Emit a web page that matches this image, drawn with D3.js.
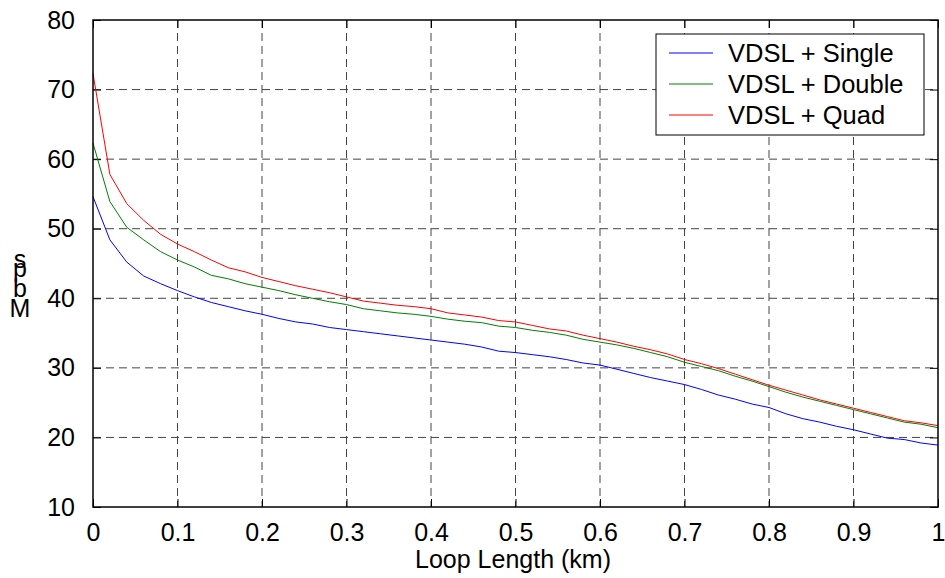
<!DOCTYPE html>
<html>
<head>
<meta charset="utf-8">
<script src="https://cdn.jsdelivr.net/npm/d3@7"></script>
<style>
	body { margin: 0; background: #fff; }
	text { font-family: "Liberation Sans", Arial, sans-serif; fill: #000; }
</style>
</head>
<body>
<svg id="chart" width="945" height="578"></svg>
<script>
const loopLength = [0, 0.02, 0.04, 0.06, 0.08, 0.10, 0.12, 0.14, 0.16, 0.18, 0.20,
	0.22, 0.24, 0.26, 0.28, 0.30, 0.32, 0.34, 0.36, 0.38, 0.40,
	0.42, 0.44, 0.46, 0.48, 0.50, 0.52, 0.54, 0.56, 0.58, 0.60,
	0.62, 0.64, 0.66, 0.68, 0.70, 0.72, 0.74, 0.76, 0.78, 0.80,
	0.82, 0.84, 0.86, 0.88, 0.90, 0.92, 0.94, 0.96, 0.98, 1.00];

const vdslSingle = [54.6, 48.4, 45.2, 43.2, 42.1, 41.1, 40.2, 39.4, 38.8, 38.2, 37.7,
	37.1, 36.6, 36.3, 35.8, 35.5, 35.2, 34.9, 34.6, 34.3, 34.0,
	33.7, 33.4, 33.0, 32.4, 32.2, 31.9, 31.6, 31.2, 30.7, 30.4,
	29.8, 29.2, 28.6, 28.1, 27.6, 26.9, 26.1, 25.5, 24.8, 24.3,
	23.4, 22.7, 22.2, 21.6, 21.1, 20.5, 19.9, 19.7, 19.2, 18.9];

const vdslDouble = [62.3, 53.9, 50.2, 48.4, 46.7, 45.5, 44.5, 43.3, 42.8, 42.1, 41.6,
	41.1, 40.5, 40.0, 39.5, 39.1, 38.5, 38.2, 37.9, 37.7, 37.4,
	37.0, 36.7, 36.5, 36.0, 35.8, 35.4, 35.1, 34.7, 34.1, 33.7,
	33.3, 32.8, 32.2, 31.6, 30.8, 30.2, 29.6, 28.8, 28.1, 27.3,
	26.5, 25.8, 25.2, 24.6, 24.0, 23.4, 22.8, 22.2, 21.9, 21.4];

const vdslQuad = [72.3, 57.8, 53.6, 51.2, 49.2, 47.8, 46.7, 45.5, 44.4, 43.8, 43.0,
	42.4, 41.8, 41.3, 40.8, 40.2, 39.6, 39.3, 39.0, 38.8, 38.5,
	37.9, 37.6, 37.3, 36.8, 36.6, 36.1, 35.6, 35.3, 34.7, 34.2,
	33.7, 33.1, 32.6, 32.0, 31.2, 30.6, 29.9, 29.1, 28.3, 27.5,
	26.8, 26.1, 25.4, 24.8, 24.2, 23.6, 23.0, 22.4, 22.1, 21.7];

const seriesNames = ["VDSL + Single", "VDSL + Double", "VDSL + Quad"];
const seriesColors = ["#0000ff", "#008000", "#ff0000"];
const xTicks = [0, 0.1, 0.2, 0.3, 0.4, 0.5, 0.6, 0.7, 0.8, 0.9, 1];
const yTicks = [10, 20, 30, 40, 50, 60, 70, 80];
const yLabelLetters = ["M", "b", "p", "s"];

const plotLeft = 93, plotRight = 938, plotTop = 20, plotBottom = 507;

const x = d3.scaleLinear().domain([0, 1]).range([plotLeft, plotRight]);
const y = d3.scaleLinear().domain([10, 80]).range([plotBottom, plotTop]);

const svg = d3.select('#chart');

// grid
svg.append('g')
	.selectAll('line')
	.data(xTicks.slice(1, -1))
	.join('line')
	.attr('x1', d => x(d)).attr('x2', d => x(d))
	.attr('y1', plotTop).attr('y2', plotBottom)
	.attr('stroke', '#444').attr('stroke-dasharray', '8,5');

svg.append('g')
	.selectAll('line')
	.data(yTicks.slice(1, -1))
	.join('line')
	.attr('x1', plotLeft).attr('x2', plotRight)
	.attr('y1', d => y(d)).attr('y2', d => y(d))
	.attr('stroke', '#444').attr('stroke-dasharray', '8,5');

// axes (ticks inward, labels on left / bottom)
const fontSize = 25;
svg.append('g')
	.attr('transform', `translate(0,${plotBottom})`)
	.call(d3.axisBottom(x).tickValues(xTicks).tickFormat(d3.format('')).tickSizeInner(-8).tickSizeOuter(0).tickPadding(14))
	.call(g => g.select('.domain').remove())
	.call(g => g.selectAll('text').style('font-size', fontSize + 'px').attr('font-family', null).attr('dy', '0.8em'))
	.attr('font-family', null);

svg.append('g')
	.attr('transform', `translate(0,${plotTop})`)
	.call(d3.axisTop(x).tickValues(xTicks).tickFormat('').tickSizeInner(-8).tickSizeOuter(0))
	.call(g => g.select('.domain').remove());

svg.append('g')
	.attr('transform', `translate(${plotLeft},0)`)
	.call(d3.axisLeft(y).tickValues(yTicks).tickSizeInner(-8).tickSizeOuter(0).tickPadding(18))
	.call(g => g.select('.domain').remove())
	.call(g => g.selectAll('text').style('font-size', fontSize + 'px').attr('font-family', null))
	.attr('font-family', null);

svg.append('g')
	.attr('transform', `translate(${plotRight},0)`)
	.call(d3.axisRight(y).tickValues(yTicks).tickFormat('').tickSizeInner(-8).tickSizeOuter(0))
	.call(g => g.select('.domain').remove());

// lines
const series = [vdslSingle, vdslDouble, vdslQuad];
const line = d3.line()
	.x((d, i) => x(loopLength[i]))
	.y(d => y(d));

svg.append('g')
	.selectAll('path')
	.data(series)
	.join('path')
	.attr('d', line)
	.attr('fill', 'none')
	.attr('stroke', (d, i) => seriesColors[i])
	.attr('stroke-width', 1);

// frame
svg.append('rect')
	.attr('x', plotLeft).attr('y', plotTop)
	.attr('width', plotRight - plotLeft).attr('height', plotBottom - plotTop)
	.attr('fill', 'none').attr('stroke', '#000').attr('stroke-width', 1.5);

// axis labels
svg.append('text')
	.attr('x', 513).attr('y', 568)
	.attr('text-anchor', 'middle')
	.style('font-size', fontSize + 'px')
	.text('Loop Length (km)');

// MATLAB-style stacked ylabel, letters overlap as in the original
const letterBase = [317, 297, 277, 268];
svg.append('g')
	.selectAll('text')
	.data(yLabelLetters)
	.join('text')
	.attr('x', 20)
	.attr('y', (d, i) => letterBase[i])
	.attr('text-anchor', 'middle')
	.style('font-size', fontSize + 'px')
	.text(d => d);

// legend
const legend = svg.append('g');
legend.append('rect')
	.attr('x', 656).attr('y', 34)
	.attr('width', 268).attr('height', 101)
	.attr('fill', '#fff').attr('stroke', '#000').attr('stroke-width', 1);

const rows = legend.selectAll('g')
	.data(seriesNames)
	.join('g')
	.attr('transform', (d, i) => `translate(0,${53 + i * 31})`);

rows.append('line')
	.attr('x1', 669).attr('x2', 713)
	.attr('stroke', (d, i) => seriesColors[i]);

rows.append('text')
	.attr('x', 728).attr('y', 9)
	.style('font-size', '25.5px')
	.text(d => d);
</script>
</body>
</html>
